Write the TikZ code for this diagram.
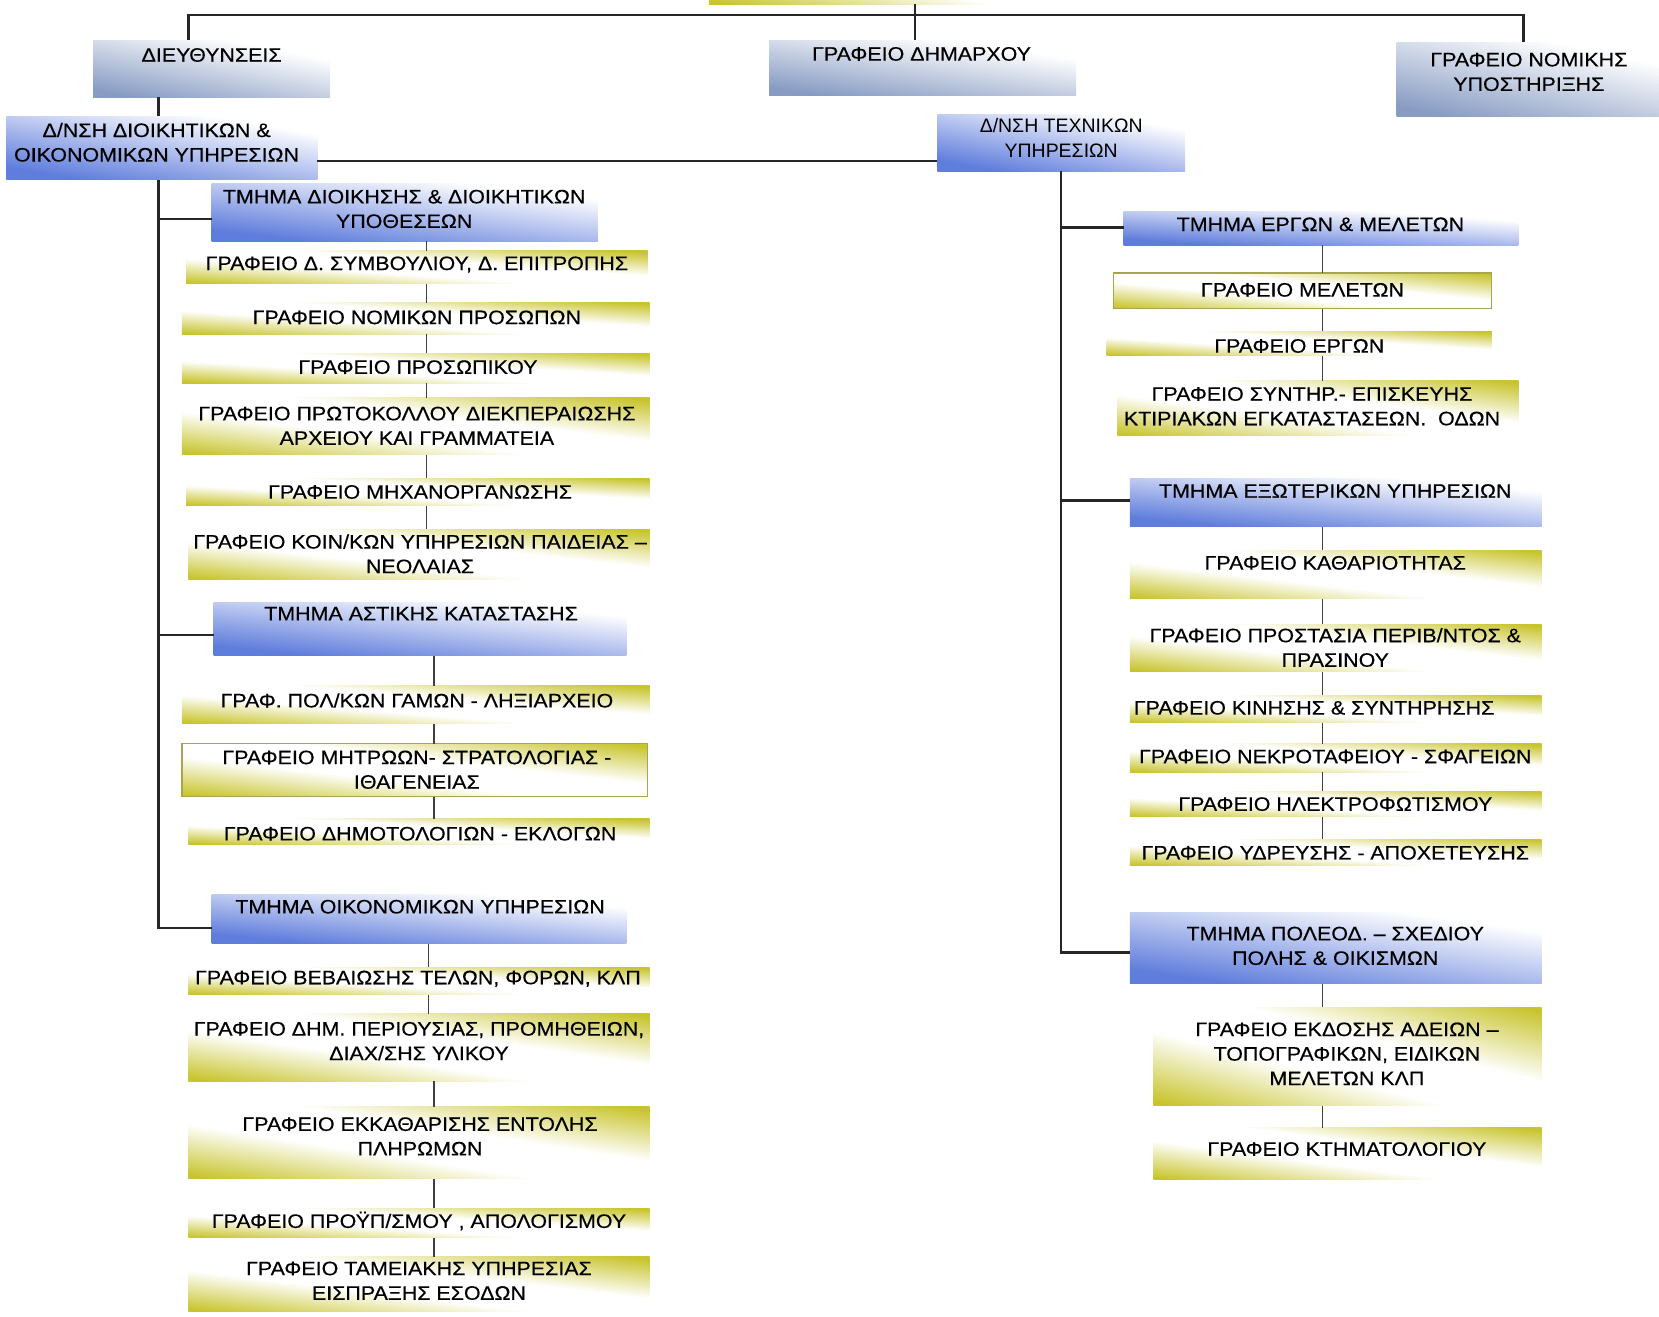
\documentclass[tikz,border=0pt]{standalone}
\usepackage{fontspec}
\setmainfont{Liberation Sans}[FakeStretch=1.1,FakeBold=0.4]
\newfontfamily\plainf{Liberation Sans}
% yellow (200,196,45): white at the TL-BR diagonal, yellow towards BL and TR
\pgfdeclarefunctionalshading{yelsh}{\pgfpointorigin}{\pgfpoint{100bp}{100bp}}{}{
  add 100 div 1 sub abs 0.12 sub 2.8 mul
  dup abs exch 1 sub abs sub 1 add 0.5 mul
  dup 0.216 mul 1 exch sub exch dup 0.231 mul 1 exch sub exch 0.824 mul 1 exch sub
}
% blue (95,125,220): blue at the lower left, white at the upper right
\pgfdeclarefunctionalshading{blush}{\pgfpointorigin}{\pgfpoint{100bp}{100bp}}{}{
  0.011 mul exch 0.009 mul add 0.5 sub 1.35 mul 1.15 exch sub
  dup abs exch 1 sub abs sub 1 add 0.5 mul
  dup 0.627 mul 1 exch sub exch dup 0.510 mul 1 exch sub exch 0.137 mul 1 exch sub
}
% grey-blue (135,155,195)
\pgfdeclarefunctionalshading{gblsh}{\pgfpointorigin}{\pgfpoint{100bp}{100bp}}{}{
  0.011 mul exch 0.009 mul add 0.5 sub 1.35 mul 1.1 exch sub
  dup abs exch 1 sub abs sub 1 add 0.5 mul
  dup 0.471 mul 1 exch sub exch dup 0.392 mul 1 exch sub exch 0.235 mul 1 exch sub
}
\definecolor{yel}{RGB}{200,196,45}
\tikzset{
  boxbase/.style={rectangle, inner sep=0pt, outer sep=0pt},
  ybox/.style={boxbase, shade, shading=yelsh},
  ybord/.style={ybox, draw=yel!55!gray, line width=0.5pt},
  bbox/.style={boxbase, shade, shading=blush},
  gbox/.style={boxbase, shade, shading=gblsh},
  txt/.style={inner sep=0pt, align=center, font=\fontsize{9.2}{11.6}\selectfont, text=black},
  spine/.style={line width=1.2pt, black!85},
  conn/.style={line width=0.7pt, black!75}
}
% name, style, x1, y1, x2, y2, text x, text y, text   (y counted downwards)
\newcommand\obox[9]{%
  \node[#2, minimum width={(#5-#3)*0.5pt}, minimum height={(#6-#4)*0.5pt}] (#1) at ({(#3+#5)/2},{-(#4+#6)/2}) {};
  \node[txt] (#1t) at (#7,{-#8}) {#9};
}
\begin{document}
\begin{tikzpicture}[x=0.5pt,y=0.5pt]
\useasboundingbox (0,0) rectangle (1568,-1244);
\fill[white] (0,0) rectangle (1568,-1244);

% top (mostly outside the picture)
\node[ybox, minimum width=180pt, minimum height=32pt] (top) at (850,28) {};

% top level
\obox{dieu}{gbox}{88}{38}{312}{92}{200}{52}{ΔΙΕΥΘΥΝΣΕΙΣ}
\obox{dhm}{gbox}{727}{38}{1017}{90}{871}{51}{ΓΡΑΦΕΙΟ ΔΗΜΑΡΧΟΥ}
\obox{nom}{gbox}{1320}{40}{1580}{110}{1445}{68}{ΓΡΑΦΕΙΟ ΝΟΜΙΚΗΣ\\ΥΠΟΣΤΗΡΙΞΗΣ}
\obox{dno}{bbox}{6}{110}{300}{170}{148}{134.5}{Δ/ΝΣΗ ΔΙΟΙΚΗΤΙΚΩΝ \&\\ΟΙΚΟΝΟΜΙΚΩΝ ΥΠΗΡΕΣΙΩΝ}
\obox{dte}{bbox}{886}{108}{1120}{162}{1003}{130.5}{\plainf Δ/ΝΣΗ ΤΕΧΝΙΚΩΝ\\\plainf ΥΠΗΡΕΣΙΩΝ}

% left column
\obox{tdi}{bbox}{200}{173}{565}{228}{382}{197.5}{ΤΜΗΜΑ ΔΙΟΙΚΗΣΗΣ \& ΔΙΟΙΚΗΤΙΚΩΝ\\ΥΠΟΘΕΣΕΩΝ}
\obox{g1}{ybox}{176}{237}{612}{268}{394}{250}{ΓΡΑΦΕΙΟ Δ. ΣΥΜΒΟΥΛΙΟΥ, Δ. ΕΠΙΤΡΟΠΗΣ}
\obox{g2}{ybox}{172}{286}{614}{316}{394}{300}{ΓΡΑΦΕΙΟ ΝΟΜΙΚΩΝ ΠΡΟΣΩΠΩΝ}
\obox{g3}{ybox}{172}{334}{614}{362}{395}{347}{ΓΡΑΦΕΙΟ ΠΡΟΣΩΠΙΚΟΥ}
\obox{g4}{ybox}{172}{376}{614}{430}{394}{402.5}{ΓΡΑΦΕΙΟ ΠΡΩΤΟΚΟΛΛΟΥ ΔΙΕΚΠΕΡΑΙΩΣΗΣ\\ΑΡΧΕΙΟΥ ΚΑΙ ΓΡΑΜΜΑΤΕΙΑ}
\obox{g5}{ybox}{176}{452}{614}{478}{397}{465}{ΓΡΑΦΕΙΟ ΜΗΧΑΝΟΡΓΑΝΩΣΗΣ}
\obox{g6}{ybox}{178}{500}{614}{548}{397}{523.5}{ΓΡΑΦΕΙΟ ΚΟΙΝ/ΚΩΝ ΥΠΗΡΕΣΙΩΝ ΠΑΙΔΕΙΑΣ –\\ΝΕΟΛΑΙΑΣ}
\obox{tas}{bbox}{202}{569}{592}{620}{398}{580}{ΤΜΗΜΑ ΑΣΤΙΚΗΣ ΚΑΤΑΣΤΑΣΗΣ}
\obox{p1}{ybox}{172}{648}{614}{684}{394}{662}{ΓΡΑΦ. ΠΟΛ/ΚΩΝ ΓΑΜΩΝ - ΛΗΞΙΑΡΧΕΙΟ}
\obox{p2}{ybord}{172}{703}{612}{753}{394}{727.5}{ΓΡΑΦΕΙΟ ΜΗΤΡΩΩΝ- ΣΤΡΑΤΟΛΟΓΙΑΣ -\\ΙΘΑΓΕΝΕΙΑΣ}
\obox{p3}{ybox}{178}{774}{614}{798}{397}{788}{ΓΡΑΦΕΙΟ ΔΗΜΟΤΟΛΟΓΙΩΝ - ΕΚΛΟΓΩΝ}
\obox{toi}{bbox}{200}{845}{592}{892}{397}{857}{ΤΜΗΜΑ ΟΙΚΟΝΟΜΙΚΩΝ ΥΠΗΡΕΣΙΩΝ}
\obox{f1}{ybox}{178}{914}{614}{940}{395}{925}{ΓΡΑΦΕΙΟ ΒΕΒΑΙΩΣΗΣ ΤΕΛΩΝ, ΦΟΡΩΝ, ΚΛΠ}
\obox{f2}{ybox}{178}{958}{614}{1022}{396}{984}{ΓΡΑΦΕΙΟ ΔΗΜ. ΠΕΡΙΟΥΣΙΑΣ, ΠΡΟΜΗΘΕΙΩΝ,\\ΔΙΑΧ/ΣΗΣ ΥΛΙΚΟΥ}
\obox{f3}{ybox}{178}{1046}{614}{1114}{397}{1074}{ΓΡΑΦΕΙΟ ΕΚΚΑΘΑΡΙΣΗΣ ΕΝΤΟΛΗΣ\\ΠΛΗΡΩΜΩΝ}
\obox{f4}{ybox}{178}{1142}{614}{1170}{396}{1154}{ΓΡΑΦΕΙΟ ΠΡΟΫΠ/ΣΜΟΥ , ΑΠΟΛΟΓΙΣΜΟΥ}
\obox{f5}{ybox}{178}{1188}{614}{1240}{396}{1210.5}{ΓΡΑΦΕΙΟ ΤΑΜΕΙΑΚΗΣ ΥΠΗΡΕΣΙΑΣ\\ΕΙΣΠΡΑΞΗΣ ΕΣΟΔΩΝ}

% right column
\obox{ter}{bbox}{1062}{200}{1435}{232}{1248}{212}{ΤΜΗΜΑ ΕΡΓΩΝ \& ΜΕΛΕΤΩΝ}
\obox{r1}{ybord}{1052}{258}{1410}{292}{1231}{274}{ΓΡΑΦΕΙΟ ΜΕΛΕΤΩΝ}
\obox{r2}{ybox}{1046}{313}{1410}{336}{1228}{327}{ΓΡΑΦΕΙΟ ΕΡΓΩΝ}
\obox{r3}{ybox}{1056}{360}{1435}{412}{1240}{384}{ΓΡΑΦΕΙΟ ΣΥΝΤΗΡ.- ΕΠΙΣΚΕΥΗΣ\\ΚΤΙΡΙΑΚΩΝ ΕΓΚΑΤΑΣΤΑΣΕΩΝ.\ \ ΟΔΩΝ}
\obox{tex}{bbox}{1068}{452}{1457}{498}{1262}{464}{ΤΜΗΜΑ ΕΞΩΤΕΡΙΚΩΝ ΥΠΗΡΕΣΙΩΝ}
\obox{e1}{ybox}{1068}{520}{1457}{566}{1262}{532}{ΓΡΑΦΕΙΟ ΚΑΘΑΡΙΟΤΗΤΑΣ}
\obox{e2}{ybox}{1068}{590}{1457}{635}{1262}{612}{ΓΡΑΦΕΙΟ ΠΡΟΣΤΑΣΙΑ ΠΕΡΙΒ/ΝΤΟΣ \&\\ΠΡΑΣΙΝΟΥ}
\obox{e3}{ybox}{1068}{657}{1457}{683}{1242}{669}{ΓΡΑΦΕΙΟ ΚΙΝΗΣΗΣ \& ΣΥΝΤΗΡΗΣΗΣ}
\obox{e4}{ybox}{1068}{703}{1457}{730}{1262}{715}{ΓΡΑΦΕΙΟ ΝΕΚΡΟΤΑΦΕΙΟΥ - ΣΦΑΓΕΙΩΝ}
\obox{e5}{ybox}{1068}{748}{1457}{772}{1262}{760}{ΓΡΑΦΕΙΟ ΗΛΕΚΤΡΟΦΩΤΙΣΜΟΥ}
\obox{e6}{ybox}{1068}{793}{1457}{818}{1262}{806}{ΓΡΑΦΕΙΟ ΥΔΡΕΥΣΗΣ - ΑΠΟΧΕΤΕΥΣΗΣ}
\obox{tpo}{bbox}{1068}{862}{1457}{930}{1262}{894}{ΤΜΗΜΑ ΠΟΛΕΟΔ. – ΣΧΕΔΙΟΥ\\ΠΟΛΗΣ \& ΟΙΚΙΣΜΩΝ}
\obox{k1}{ybox}{1090}{952}{1457}{1045}{1273}{996}{ΓΡΑΦΕΙΟ ΕΚΔΟΣΗΣ ΑΔΕΙΩΝ –\\ΤΟΠΟΓΡΑΦΙΚΩΝ, ΕΙΔΙΚΩΝ\\ΜΕΛΕΤΩΝ ΚΛΠ}
\obox{k2}{ybox}{1090}{1066}{1457}{1115}{1273}{1086}{ΓΡΑΦΕΙΟ ΚΤΗΜΑΤΟΛΟΓΙΟΥ}

% junction coordinates
\coordinate (jl) at (178,-14);
\coordinate (jc) at (865,-14);
\coordinate (jr) at (1440,-14);
\coordinate (xL) at (150,0);
\coordinate (xR) at (1003,0);
\coordinate (hT) at (0,-152);
\coordinate (bL1) at (150,-207);
\coordinate (bL2) at (150,-600);
\coordinate (bL3) at (150,-877);
\coordinate (bR1) at (1003,-215);
\coordinate (bR2) at (1003,-473);
\coordinate (bR3) at (1003,-900);
\coordinate (cA) at (403,0);
\coordinate (cB) at (410,0);
\coordinate (cC) at (405,0);
\coordinate (cR) at (1250,0);

% top connectors
\draw[spine] (dieu.north -| jl) -- (jl) -- (jr) -- (nom.north -| jr);
\draw[spine] (top.south -| jc) -- (dhm.north -| jc);
\draw[spine] (dieu.south -| xL) -- (dno.north -| xL);
\draw[spine] (dno.east |- hT) -- (dte.west |- hT);

% left spine
\draw[spine] (dno.south -| xL) -- (bL3) -- (bL3 -| toi.west);
\draw[spine] (bL1) -- (bL1 -| tdi.west);
\draw[spine] (bL2) -- (bL2 -| tas.west);

% right spine
\draw[spine] (dte.south -| xR) -- (bR3) -- (bR3 -| tpo.west);
\draw[spine] (bR1) -- (bR1 -| ter.west);
\draw[spine] (bR2) -- (bR2 -| tex.west);

% left children
\draw[conn] (tdi.south -| cA) -- (g1.north -| cA);
\draw[conn] (g1.south -| cA) -- (g2.north -| cA);
\draw[conn] (g2.south -| cA) -- (g3.north -| cA);
\draw[conn] (g3.south -| cA) -- (g4.north -| cA);
\draw[conn] (g4.south -| cA) -- (g5.north -| cA);
\draw[conn] (g5.south -| cA) -- (g6.north -| cA);
\draw[conn] (tas.south -| cB) -- (p1.north -| cB);
\draw[conn] (p1.south -| cB) -- (p2.north -| cB);
\draw[conn] (p2.south -| cB) -- (p3.north -| cB);
\draw[conn] (toi.south -| cC) -- (f1.north -| cC);
\draw[conn] (f1.south -| cC) -- (f2.north -| cC);
\draw[conn] (f2.south -| cB) -- (f3.north -| cB);
\draw[conn] (f3.south -| cB) -- (f4.north -| cB);
\draw[conn] (f4.south -| cB) -- (f5.north -| cB);

% right children
\draw[conn] (ter.south -| cR) -- (r1.north -| cR);
\draw[conn] (r1.south -| cR) -- (r2.north -| cR);
\draw[conn] (r2.south -| cR) -- (r3.north -| cR);
\draw[conn] (tex.south -| cR) -- (e1.north -| cR);
\draw[conn] (e1.south -| cR) -- (e2.north -| cR);
\draw[conn] (e2.south -| cR) -- (e3.north -| cR);
\draw[conn] (e3.south -| cR) -- (e4.north -| cR);
\draw[conn] (e4.south -| cR) -- (e5.north -| cR);
\draw[conn] (e5.south -| cR) -- (e6.north -| cR);
\draw[conn] (tpo.south -| cR) -- (k1.north -| cR);
\draw[conn] (k1.south -| cR) -- (k2.north -| cR);
\end{tikzpicture}
\end{document}
